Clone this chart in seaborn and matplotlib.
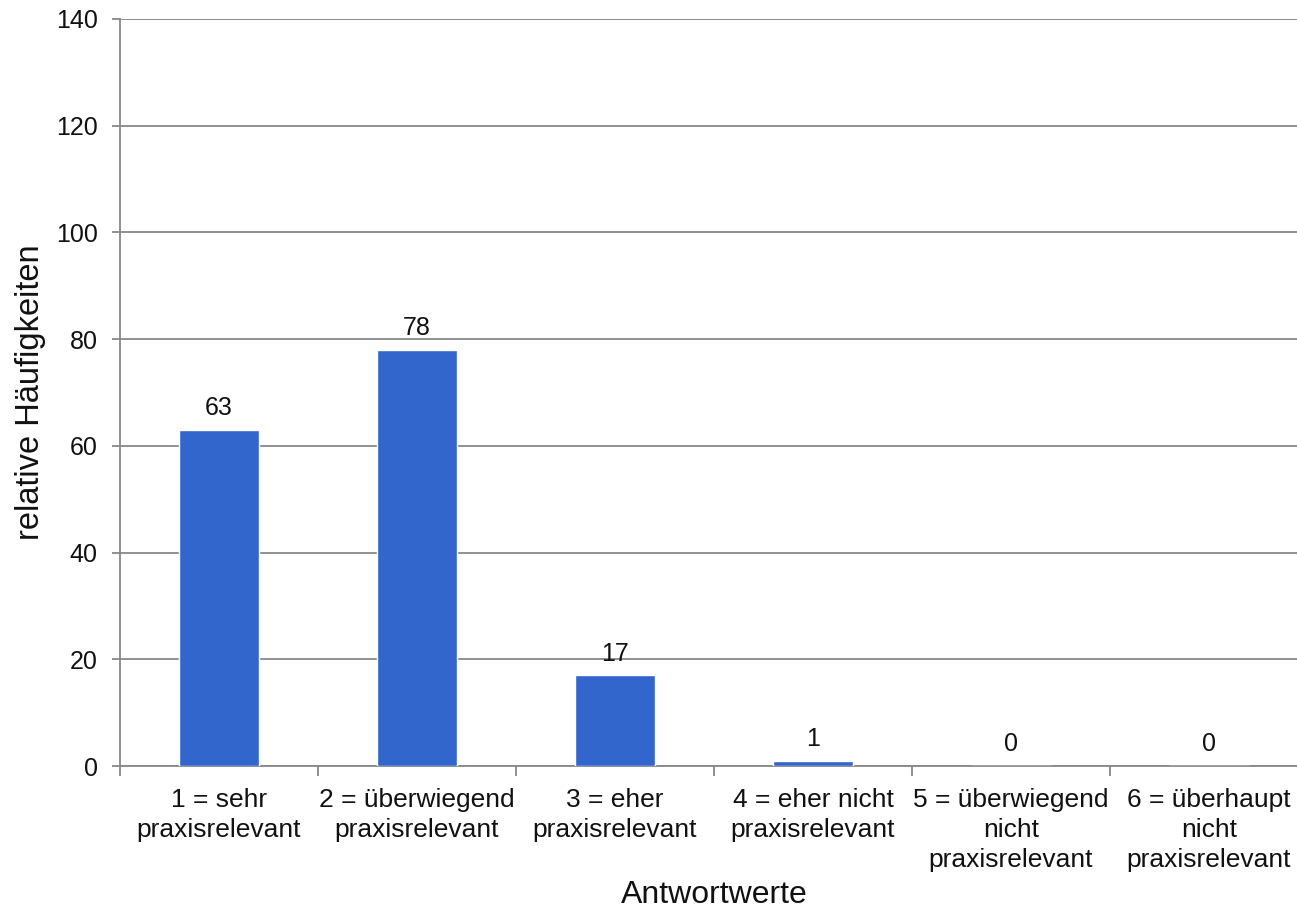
import matplotlib
matplotlib.use("Agg")
import matplotlib.pyplot as plt
import seaborn as sns
import pandas as pd
import numpy as np
from matplotlib.ticker import FixedLocator

categories = ["1 = sehr\npraxisrelevant", "2 = überwiegend\npraxisrelevant",
              "3 = eher\npraxisrelevant", "4 = eher nicht\npraxisrelevant",
              "5 = überwiegend\nnicht\npraxisrelevant", "6 = überhaupt\nnicht\npraxisrelevant"]
values = [63, 78, 17, 1, 0, 0]
yticks = [0, 20, 40, 60, 80, 100, 120, 140]

sns.set_theme(style="white")
plt.rcParams['font.family'] = ['Liberation Sans', 'DejaVu Sans']

df = pd.DataFrame({"cat": categories, "val": values})
fig = plt.figure(figsize=(12.97, 9.16), dpi=100)
ax = fig.add_axes([120/1297, 150/916, 1188/1297, 747/916])

sns.barplot(data=df, x="cat", y="val", color="#3366CC", width=0.4, saturation=1, ax=ax, zorder=3)
for c in ax.containers:
    ax.bar_label(c, labels=[str(v) for v in values], padding=7, fontsize=18, color="#111111")

ax.set_ylim(0, 140)
ax.set_xlim(-0.5, 5.5)
ax.set_yticks(yticks)
ax.yaxis.grid(True, color="#888888", linewidth=1.3, zorder=0)
ax.set_axisbelow(True)
for s in ["top", "right"]:
    ax.spines[s].set_visible(False)
for s in ["left", "bottom"]:
    ax.spines[s].set_color("#888888")
    ax.spines[s].set_linewidth(1.3)

ax.tick_params(axis="y", which="major", left=True, length=6, width=1.3, color="#888888", labelsize=18, labelcolor="#111111", pad=10)
ax.tick_params(axis="x", which="major", length=0, labelsize=19, labelcolor="#111111", pad=16)
for lbl in ax.get_xticklabels():
    lbl.set_linespacing(1.3)
ax.xaxis.set_minor_locator(FixedLocator(np.arange(-0.5, 6.0, 1.0)))
ax.tick_params(axis="x", which="minor", bottom=True, length=7, width=1.3, color="#888888")

ax.set_xlabel("Antwortwerte", fontsize=23, color="#111111", labelpad=6)
ax.set_ylabel("relative Häufigkeiten", fontsize=23.5, color="#111111", labelpad=7)

fig.savefig("out.png", dpi=100)
